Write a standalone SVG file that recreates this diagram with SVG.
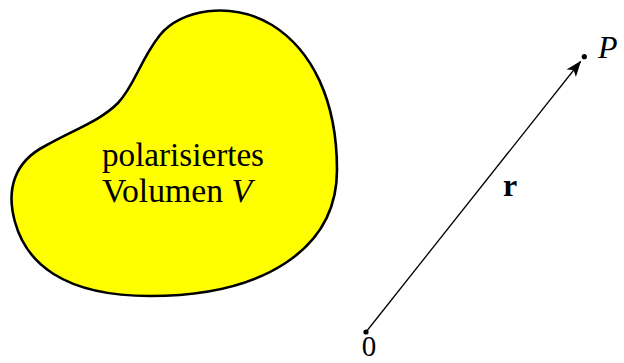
<svg xmlns="http://www.w3.org/2000/svg" width="624" height="363" viewBox="0 0 624 363">
<style>
.t{font-family:"Liberation Serif","DejaVu Serif",serif;fill:#000}
</style>
<defs>
<marker id="stealth" viewBox="0 0 16 12" refX="15" refY="6" markerWidth="17" markerHeight="12" markerUnits="userSpaceOnUse" orient="auto">
<path d="M0,0 L16,6 L0,12 L4,6 Z" fill="#000"/>
</marker>
</defs>
<rect width="624" height="363" fill="#fff"/>
<g id="volume">
<path d="M118,103 C135,85 140,60 160,35 C180,10 230,0 272,25 C312,50 337,100 337,170 C337,250 262,296 150,296 C62,296 26,262 15,222 C6,190 14,162 45,146 C75,129 100,121 118,103 Z" fill="#ffff00" stroke="#000" stroke-width="2.6"/>
<text class="t" x="102" y="166" font-size="33" textLength="162" lengthAdjust="spacingAndGlyphs">polarisiertes</text>
<text class="t" x="102" y="202" font-size="33" textLength="150" lengthAdjust="spacingAndGlyphs">Volumen <tspan font-style="italic">V</tspan></text>
</g>
<g id="origin">
<circle cx="366" cy="332" r="2.6" fill="#000"/>
<text class="t" x="369" y="356" font-size="29" text-anchor="middle">0</text>
</g>
<g id="pointP">
<circle cx="584.3" cy="56.7" r="2.6" fill="#000"/>
<text class="t" x="598" y="58" font-size="32" font-style="italic">P</text>
</g>
<g id="connectors">
<line x1="366" y1="332" x2="580.5" y2="61.5" stroke="#000" stroke-width="1.3" marker-end="url(#stealth)"/>
<text class="t" x="510" y="196" font-size="32" font-weight="bold" text-anchor="middle">r</text>
</g>
</svg>
